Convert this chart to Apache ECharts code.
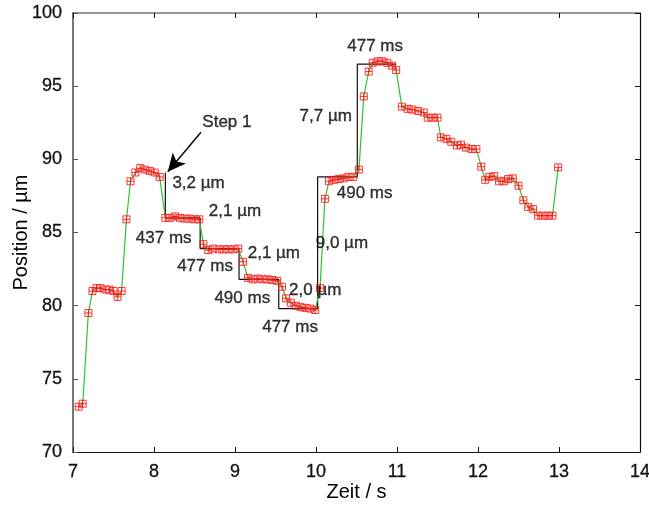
<!DOCTYPE html>
<html>
<head>
<meta charset="utf-8">
<script src="https://cdn.jsdelivr.net/npm/echarts@6/dist/echarts.min.js"></script>
<style>
  html, body { margin: 0; padding: 0; background: #fff; }
  #chart { width: 649px; height: 505px; }
</style>
</head>
<body>
<div id="chart"></div>
<script>
// Messpunkte: Zeit (s) und Position (µm)
const timeS = [
  7.07, 7.12, 7.19, 7.24, 7.29, 7.34, 7.40, 7.45, 7.50, 7.55, 7.60, 7.66, 7.71, 7.77, 7.83, 7.89, 7.95, 8.01, 8.07,
  8.14, 8.20, 8.26, 8.32, 8.38, 8.44, 8.50, 8.56, 8.61, 8.67, 8.73, 8.80, 8.86, 8.92, 8.98, 9.04,
  9.10, 9.16, 9.22, 9.28, 9.34, 9.40, 9.46, 9.52, 9.58, 9.63, 9.69, 9.75, 9.81, 9.87, 9.93, 9.99,
  10.05, 10.11, 10.16, 10.22, 10.28, 10.34, 10.40, 10.46, 10.53, 10.59, 10.65, 10.70, 10.76, 10.82, 10.88, 10.94, 10.99,
  11.06, 11.13, 11.19, 11.26, 11.33, 11.38, 11.44, 11.50, 11.54, 11.61, 11.67, 11.74, 11.79, 11.85, 11.92, 11.98,
  12.04, 12.09, 12.14, 12.20, 12.26, 12.32, 12.37, 12.43, 12.50, 12.56, 12.62, 12.68, 12.74, 12.80, 12.86, 12.92, 12.99
]
const posUm = [
  73.1, 73.3, 79.5, 81.0, 81.2, 81.2, 81.1, 81.1, 81.0, 80.6, 81.0, 85.9, 88.5, 89.1, 89.4, 89.3, 89.2, 89.1, 88.8,
  86.0, 86.0, 86.1, 86.0, 85.95, 85.95, 85.9, 85.9, 84.2, 83.8, 83.9, 83.85, 83.85, 83.85, 83.85, 83.9,
  83.0, 81.9, 81.8, 81.85, 81.8, 81.8, 81.75, 81.7, 81.3, 80.5, 80.2, 80.0, 79.9, 79.85, 79.8, 79.7,
  81.2, 87.3, 88.5, 88.6, 88.65, 88.7, 88.8, 88.8, 89.3, 94.3, 96.0, 96.6, 96.7, 96.7, 96.6, 96.4, 96.1,
  93.6, 93.45, 93.4, 93.3, 93.2, 92.85, 92.85, 92.85, 91.5, 91.4, 91.2, 90.95, 91.0, 90.8, 90.7, 90.7,
  89.5, 88.6, 88.8, 88.85, 88.5, 88.5, 88.65, 88.7, 88.2, 87.2, 86.75, 86.6, 86.15, 86.15, 86.15, 86.15, 89.45
]

// Idealisierte Treppe
const stepX = [8.14, 8.14, 8.57, 8.57, 9.05, 9.05, 9.54, 9.54, 10.02, 10.02, 10.51, 10.51, 10.99]
const stepY = [89.1, 86.0, 86.0, 83.9, 83.9, 81.8, 81.8, 79.8, 79.8, 88.8, 88.8, 96.5, 96.5]

// Beschriftungen
const noteText = ['Step 1', '3,2 µm', '437 ms', '2,1 µm', '477 ms', '2,1 µm', '490 ms', '2,0 µm', '477 ms', '9,0 µm', '490 ms', '7,7 µm', '477 ms']
const noteX = [8.90, 8.55, 8.12, 9.00, 8.63, 9.48, 9.09, 9.99, 9.68, 10.32, 10.60, 10.12, 10.73]
const noteY = [92.55, 88.35, 84.6, 86.45, 82.7, 83.55, 80.5, 81.05, 78.55, 84.25, 87.65, 92.95, 97.75]

const arrowFrom = [8.58, 91.85]
const arrowTo = [8.17, 89.15]

const xTicks = [7, 8, 9, 10, 11, 12, 13, 14]
const yTicks = [70, 75, 80, 85, 90, 95, 100]

const chart = echarts.init(document.getElementById('chart'))
const font = 'Liberation Sans, Arial, sans-serif'

const plusBox = 'path://M0,0L10,0L10,10L0,10Z M5,0L5,10 M0,5L10,5'

const option = {
  animation: false,
  grid: { left: 73, right: 9, top: 13, bottom: 53, outerBoundsMode: 'none', containLabel: false },
  xAxis: [
    {
      type: 'value',
      min: xTicks[0],
      max: xTicks[xTicks.length - 1],
      interval: 1,
      name: 'Zeit / s',
      nameLocation: 'middle',
      nameGap: 30,
      nameMoveOverlap: false,
      nameTextStyle: { fontFamily: font, fontSize: 20, color: '#000' },
      axisLine: { lineStyle: { color: '#111', width: 1.2 } },
      axisTick: { inside: true, length: 5, lineStyle: { color: '#111' } },
      axisLabel: { fontFamily: font, fontSize: 18, color: '#111', margin: 11, textBorderColor: '#111', textBorderWidth: 0.3 },
      splitLine: { show: false }
    },
    {
      type: 'value',
      position: 'top',
      min: xTicks[0],
      max: xTicks[xTicks.length - 1],
      interval: 1,
      axisLine: { lineStyle: { color: '#777', width: 1.5 } },
      axisTick: { inside: true, length: 5, lineStyle: { color: '#111' } },
      axisLabel: { show: false },
      splitLine: { show: false }
    }
  ],
  yAxis: [
    {
      type: 'value',
      min: yTicks[0],
      max: yTicks[yTicks.length - 1],
      interval: 5,
      name: 'Position / µm',
      nameLocation: 'middle',
      nameGap: 42,
      nameMoveOverlap: false,
      nameTextStyle: { fontFamily: font, fontSize: 20, color: '#000' },
      axisLine: { show: true, lineStyle: { color: '#777', width: 2 } },
      axisTick: { show: true, inside: true, length: 5, lineStyle: { color: '#555' } },
      axisLabel: { fontFamily: font, fontSize: 18, color: '#111', margin: 11, textBorderColor: '#111', textBorderWidth: 0.3 },
      splitLine: { show: false }
    },
    {
      type: 'value',
      position: 'right',
      min: yTicks[0],
      max: yTicks[yTicks.length - 1],
      interval: 5,
      axisLine: { show: true, lineStyle: { color: '#111', width: 1.2 } },
      axisTick: { show: true, inside: true, length: 5, lineStyle: { color: '#111' } },
      axisLabel: { show: false },
      splitLine: { show: false }
    }
  ],
  series: [
    {
      name: 'Treppe',
      type: 'line',
      data: stepX.map((x, i) => [x, stepY[i]]),
      showSymbol: false,
      lineStyle: { color: '#111', width: 1.2 },
      z: 2,
      markLine: {
        silent: true,
        symbol: ['none', 'arrow'],
        symbolSize: [13, 18],
        label: { show: false },
        lineStyle: { color: '#000', width: 1.4, type: 'solid' },
        data: [[{ coord: arrowFrom }, { coord: arrowTo }]]
      }
    },
    {
      name: 'Messung',
      type: 'line',
      data: timeS.map((x, i) => [x, posUm[i]]),
      symbol: plusBox,
      symbolSize: 7,
      showAllSymbol: true,
      lineStyle: { color: '#2ec42e', width: 1.2 },
      itemStyle: { color: 'rgba(0,0,0,0)', borderColor: 'rgba(255,20,20,0.85)', borderWidth: 1 },
      z: 3
    },
    {
      name: 'Notiz',
      type: 'scatter',
      data: noteX.map((x, i) => [x, noteY[i], noteText[i]]),
      symbolSize: 0,
      silent: true,
      z: 5,
      label: {
        show: true,
        position: 'inside',
        formatter: (p) => p.data[2],
        fontFamily: font,
        fontSize: 17,
        color: '#000',
        textBorderColor: '#000',
        textBorderWidth: 0.35
      }
    }
  ]
}

chart.setOption(option)
</script>
</body>
</html>
